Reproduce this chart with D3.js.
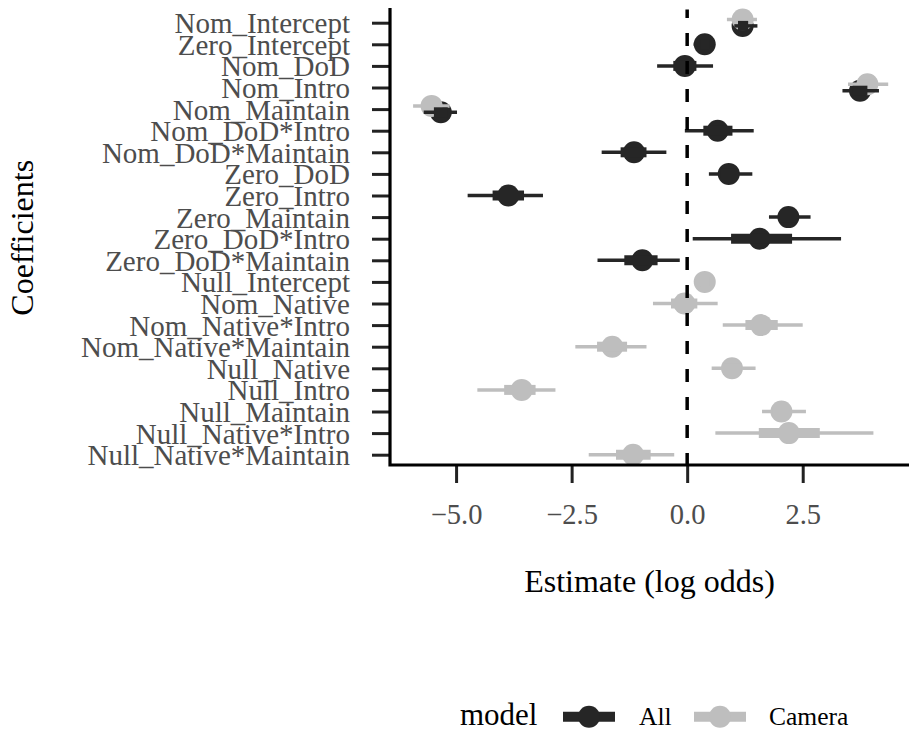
<!DOCTYPE html>
<html>
<head>
<meta charset="utf-8">
<script src="https://cdn.jsdelivr.net/npm/d3@7"></script>
<style>
  html, body { margin: 0; padding: 0; background: #fff; }
  svg { display: block; }
  text { font-family: "Liberation Serif", "Times New Roman", serif; }
</style>
</head>
<body>
<svg id="chart" width="909" height="730"></svg>
<script>
// ---------------- data ----------------
const categories = [
  "Nom_Intercept", "Zero_Intercept", "Nom_DoD", "Nom_Intro", "Nom_Maintain",
  "Nom_DoD*Intro", "Nom_DoD*Maintain", "Zero_DoD", "Zero_Intro", "Zero_Maintain",
  "Zero_DoD*Intro", "Zero_DoD*Maintain", "Null_Intercept", "Nom_Native",
  "Nom_Native*Intro", "Nom_Native*Maintain", "Null_Native", "Null_Intro",
  "Null_Maintain", "Null_Native*Intro", "Null_Native*Maintain"
];
const models = ["All", "Camera"];

// model "All" (null = coefficient not in model)
const allEst  = [1.20, 0.38, -0.05, 3.74, -5.33, 0.66, -1.15, 0.90, -3.87, 2.19, 1.57, -0.97, null, null, null, null, null, null, null, null, null];
const allLo   = [1.02, 0.14, -0.65, 3.36, -5.70, -0.05, -1.85, 0.47, -4.75, 1.77, 0.12, -1.94, null, null, null, null, null, null, null, null, null];
const allHi   = [1.52, 0.60, 0.56, 4.15, -4.98, 1.44, -0.45, 1.41, -3.12, 2.67, 3.33, -0.16, null, null, null, null, null, null, null, null, null];
const allLoIn = [1.10, 0.28, -0.30, 3.58, -5.48, 0.35, -1.44, 0.72, -4.21, 2.00, 0.95, -1.36, null, null, null, null, null, null, null, null, null];
const allHiIn = [1.32, 0.48, 0.20, 3.90, -5.18, 0.98, -0.88, 1.10, -3.53, 2.38, 2.27, -0.64, null, null, null, null, null, null, null, null, null];

// model "Camera"
const camEst  = [1.20, null, null, 3.90, -5.53, null, null, null, null, null, null, null, 0.38, -0.06, 1.60, -1.62, 0.97, -3.58, 2.04, 2.20, -1.17];
const camLo   = [0.86, null, null, 3.48, -5.93, null, null, null, null, null, null, null, 0.16, -0.74, 0.77, -2.42, 0.53, -4.54, 1.62, 0.61, -2.13];
const camHi   = [1.51, null, null, 4.35, -5.14, null, null, null, null, null, null, null, 0.58, 0.66, 2.50, -0.88, 1.48, -2.85, 2.57, 4.03, -0.28];
const camLoIn = [1.05, null, null, 3.72, -5.70, null, null, null, null, null, null, null, 0.28, -0.35, 1.26, -1.95, 0.78, -3.96, 1.85, 1.55, -1.54];
const camHiIn = [1.35, null, null, 4.08, -5.36, null, null, null, null, null, null, null, 0.48, 0.22, 1.96, -1.30, 1.18, -3.28, 2.24, 2.87, -0.79];

const xTicks = [-5, -2.5, 0, 2.5];
const xDomain = [-6.43, 4.80];

// ---------------- build rows ----------------
function rowsFor(model, est, lo, hi, loIn, hiIn) {
  return categories.map((c, i) => ({ model, term: c, i, est: est[i], lo: lo[i], hi: hi[i], loIn: loIn[i], hiIn: hiIn[i] }))
    .filter(d => d.est !== null);
}
const allRows = rowsFor("All", allEst, allLo, allHi, allLoIn, allHiIn);
const camRows = rowsFor("Camera", camEst, camLo, camHi, camLoIn, camHiIn);
const both = new Set(categories.filter((c, i) => allEst[i] !== null && camEst[i] !== null));

// ---------------- styles ----------------
const colors = { All: "#262626", Camera: "#bebebe" };
const dodge = 3.2;
const ptR = 11;
const thinW = 3.5;
const thickW = 10;

const svg = d3.select("#chart");
const panel = { left: 390, right: 909, top: 9.5, bottom: 466 };

const x = d3.scaleLinear().domain(xDomain).range([panel.left, panel.right]);
const y = d3.scalePoint().domain(categories).range([22.7, 454.7]);

const yPos = d => y(d.term) + (both.has(d.term) ? (d.model === "All" ? dodge : -dodge) : 0);

// points
const g = svg.append("g");
[allRows, camRows].forEach(rows => {
  g.selectAll(null).data(rows).enter().append("circle")
    .attr("cx", d => x(d.est)).attr("cy", yPos).attr("r", ptR)
    .attr("fill", d => colors[d.model]);
});
// intervals (Camera first, All on top)
[camRows, allRows].forEach(rows => {
  g.selectAll(null).data(rows).enter().append("line")
    .attr("x1", d => x(d.lo)).attr("x2", d => x(d.hi))
    .attr("y1", yPos).attr("y2", yPos)
    .attr("stroke", d => colors[d.model]).attr("stroke-width", thinW);
  g.selectAll(null).data(rows).enter().append("line")
    .attr("x1", d => x(d.loIn)).attr("x2", d => x(d.hiIn))
    .attr("y1", yPos).attr("y2", yPos)
    .attr("stroke", d => colors[d.model]).attr("stroke-width", thickW);
});

// zero line
svg.append("line")
  .attr("x1", x(0)).attr("x2", x(0))
  .attr("y1", panel.bottom).attr("y2", panel.top)
  .attr("stroke", "#000").attr("stroke-width", 3.5)
  .attr("stroke-dasharray", "13,15");

// ---------------- axes ----------------
const xAxis = d3.axisBottom(x).tickValues(xTicks).tickFormat(d3.format(".1f")).tickSize(18).tickSizeOuter(0).tickPadding(6);
const xg = svg.append("g").attr("transform", `translate(0,${panel.bottom - 1})`).call(xAxis);
xg.select(".domain").remove();
xg.selectAll(".tick line").attr("stroke", "#222").attr("stroke-width", 3);
xg.selectAll(".tick text").attr("fill", "#4d4d4d").attr("font-size", 28.5)
  .attr("font-family", "Liberation Serif, Times New Roman, serif").attr("dy", null).attr("y", 59);

const yAxis = d3.axisLeft(y).tickSize(18).tickSizeOuter(0).tickPadding(22);
const yg = svg.append("g").attr("transform", `translate(${panel.left},0)`).call(yAxis);
yg.select(".domain").remove();
yg.selectAll(".tick line").attr("stroke", "#222").attr("stroke-width", 3);
yg.selectAll(".tick text").attr("fill", "#4d4d4d").attr("font-size", 29)
  .attr("font-family", "Liberation Serif, Times New Roman, serif").attr("dy", null).attr("y", 10).attr("x", -40);

// axis lines
svg.append("path")
  .attr("d", `M${panel.left},${panel.top}V${panel.bottom - 1}H${panel.right}`)
  .attr("fill", "none").attr("stroke", "#000").attr("stroke-width", 3.2)
  .attr("stroke-linejoin", "miter").attr("stroke-linecap", "square");

// titles
svg.append("text").attr("x", (panel.left + panel.right) / 2).attr("y", 592)
  .attr("text-anchor", "middle").attr("font-size", 32).attr("fill", "#000")
  .text("Estimate (log odds)");
svg.append("text").attr("transform", `translate(33,${(panel.top + panel.bottom) / 2}) rotate(-90)`)
  .attr("text-anchor", "middle").attr("font-size", 32).attr("fill", "#000")
  .text("Coefficients");

// ---------------- legend ----------------
const lg = svg.append("g");
const legY = 716.7;
lg.append("text").attr("x", 460).attr("y", 725).attr("font-size", 31).attr("fill", "#000").text("model");
const keyX = { All: 563, Camera: 694 };
const labX = { All: 639, Camera: 769 };
models.forEach(m => {
  lg.append("line").attr("x1", keyX[m]).attr("x2", keyX[m] + 52).attr("y1", legY).attr("y2", legY)
    .attr("stroke", colors[m]).attr("stroke-width", thickW);
  lg.append("circle").attr("cx", keyX[m] + 26).attr("cy", legY).attr("r", ptR).attr("fill", colors[m]);
  lg.append("text").attr("x", labX[m]).attr("y", 725).attr("font-size", 25.5).attr("fill", "#000").text(m);
});
</script>
</body>
</html>
